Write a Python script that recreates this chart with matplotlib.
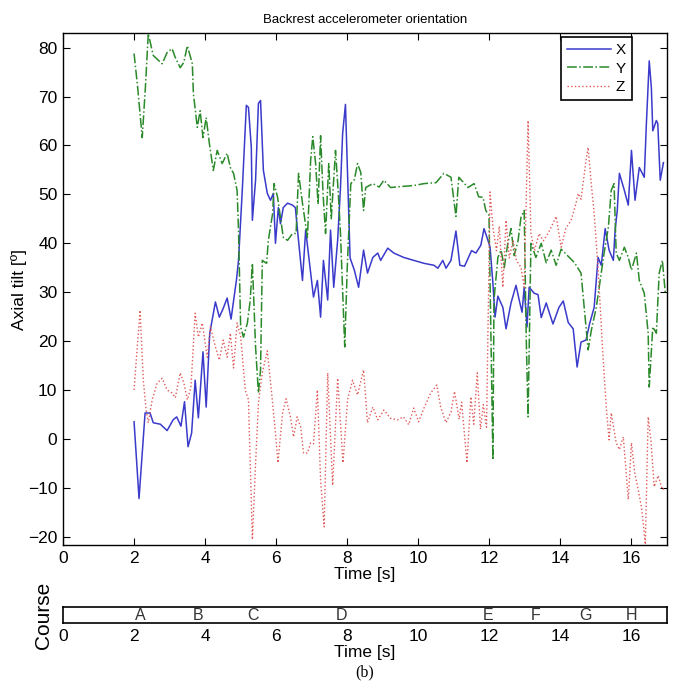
import matplotlib
matplotlib.use("Agg")
import matplotlib.pyplot as plt

plt.rcParams['font.family'] = ['Liberation Sans Narrow', 'Liberation Sans', 'DejaVu Sans']

# ---------------- data ----------------
x_t = [2.00, 2.14, 2.31, 2.45, 2.54, 2.74, 2.93, 3.10, 3.20, 3.32, 3.42, 3.52, 3.62, 3.72, 3.81,
       3.94, 4.03, 4.13, 4.29, 4.40, 4.51, 4.62, 4.73, 4.88, 4.94, 5.05, 5.16, 5.22, 5.30, 5.33,
       5.42, 5.50, 5.56, 5.64, 5.75, 5.84, 5.92, 5.98, 6.06, 6.12, 6.20, 6.32, 6.46, 6.54, 6.60,
       6.74, 6.83, 6.97, 7.05, 7.16, 7.25, 7.33, 7.45, 7.53, 7.62, 7.73, 7.81, 7.87, 7.95, 8.03,
       8.08, 8.20, 8.32, 8.46, 8.57, 8.72, 8.86, 8.94, 9.14, 9.31, 9.59, 9.87, 10.16, 10.44, 10.55,
       10.69, 10.78, 10.92, 11.06, 11.17, 11.30, 11.50, 11.62, 11.76, 11.85, 11.96, 12.02, 12.10, 12.16,
       12.24, 12.38, 12.47, 12.61, 12.75, 12.84, 12.92, 12.98, 13.06, 13.12, 13.26, 13.37, 13.46, 13.60,
       13.79, 13.96, 14.08, 14.22, 14.36, 14.47, 14.58, 14.72, 14.82, 14.95, 15.06, 15.15, 15.26, 15.37,
       15.49, 15.54, 15.60, 15.66, 15.80, 15.91, 16.00, 16.10, 16.22, 16.36, 16.42, 16.50, 16.56, 16.60,
       16.70, 16.74, 16.81, 16.90]
x_v = [3.5, -12.2, 5.3, 5.3, 3.3, 3.0, 1.7, 3.9, 4.5, 2.6, 7.6, -1.6, 1.2, 12.0, 4.3,
       17.8, 6.5, 21.6, 28.0, 24.9, 26.7, 28.8, 24.5, 32.4, 36.5, 51.4, 68.2, 67.8, 59.6, 44.7,
       52.9, 68.6, 69.2, 54.9, 50.2, 48.8, 50.2, 40.0, 47.3, 44.0, 47.3, 48.2, 47.8, 47.3, 42.7,
       32.4, 42.7, 33.9, 29.0, 32.4, 24.9, 36.5, 28.4, 42.7, 31.0, 40.6, 51.4, 62.4, 68.4, 49.0,
       37.0, 34.5, 31.0, 38.6, 33.9, 37.1, 38.0, 36.5, 39.0, 38.0, 37.1, 36.5, 35.9, 35.5, 34.9,
       36.5, 34.9, 36.5, 42.5, 35.5, 35.3, 38.5, 38.0, 39.6, 43.0, 40.6, 39.2, 31.8, 24.9,
       29.2, 26.9, 22.5, 27.8, 31.4, 28.4, 25.9, 31.0, 22.9, 31.0, 29.8, 29.5, 24.8, 27.8,
       23.5, 26.9, 28.2, 23.8, 22.5, 14.7, 19.8, 20.2, 23.5, 26.9, 37.1, 35.5, 43.0, 38.6,
       36.5, 42.7, 46.7, 54.3, 50.8, 47.8, 59.0, 48.8, 55.5, 53.5, 64.5, 77.3, 71.8, 63.0,
       65.1, 64.5, 52.9, 56.5]

y_t = [2.00, 2.10, 2.23, 2.32, 2.40, 2.54, 2.79, 2.93, 3.07, 3.16, 3.30, 3.40, 3.50, 3.64, 3.67,
       3.78, 3.86, 3.94, 4.03, 4.12, 4.23, 4.34, 4.48, 4.62, 4.71, 4.80, 4.90, 4.94, 5.00, 5.08,
       5.19, 5.27, 5.33, 5.42, 5.50, 5.56, 5.61, 5.73, 5.78, 5.90, 5.94, 6.04, 6.12, 6.20, 6.32,
       6.46, 6.56, 6.63, 6.74, 6.88, 6.97, 7.03, 7.11, 7.18, 7.25, 7.32, 7.39, 7.48, 7.55, 7.67,
       7.75, 7.81, 7.93, 8.00, 8.10, 8.20, 8.29, 8.38, 8.46, 8.52, 8.72, 8.90, 9.03, 9.22, 9.50,
       9.87, 10.16, 10.50, 10.72, 10.92, 11.06, 11.14, 11.40, 11.57, 11.70, 11.82, 11.90, 11.99, 12.10,
       12.13, 12.24, 12.33, 12.42, 12.52, 12.61, 12.70, 12.81, 12.89, 12.98, 13.04, 13.09, 13.17, 13.31,
       13.46, 13.60, 13.74, 13.88, 14.02, 14.25, 14.40, 14.58, 14.67, 14.78, 14.87, 15.01, 15.15, 15.23,
       15.35, 15.43, 15.51, 15.57, 15.66, 15.80, 15.91, 16.00, 16.14, 16.22, 16.36, 16.47, 16.50, 16.60,
       16.70, 16.78, 16.87, 16.95]
y_v = [78.8, 72.0, 61.6, 72.0, 82.9, 78.4, 76.7, 79.0, 79.8, 78.0, 75.9, 77.0, 80.4, 76.7, 70.6,
       63.7, 67.1, 61.6, 65.7, 60.4, 54.9, 59.0, 56.3, 58.4, 55.5, 54.3, 50.8, 42.7, 22.9, 20.8,
       23.7, 28.4, 35.9, 18.8, 9.4, 14.1, 36.5, 35.9, 40.6, 46.1, 52.2, 49.4, 45.3, 41.2, 40.6,
       42.0, 42.0, 54.3, 48.2, 41.2, 57.0, 61.8, 56.3, 48.0, 62.0, 50.0, 42.0, 56.3, 45.0, 59.0,
       50.0, 42.0, 18.8, 35.0, 52.2, 53.0, 56.3, 54.5, 46.7, 51.4, 52.2, 51.5, 52.9, 51.4, 51.6,
       51.8, 52.2, 52.4, 54.3, 53.5, 45.5, 53.5, 51.4, 52.2, 49.5, 49.4, 46.7, 45.7, -4.3,
       28.4, 37.1, 38.6, 35.0, 40.0, 43.0, 37.5, 40.6, 45.3, 46.7, 20.0, 4.5, 40.0, 37.1,
       40.0, 36.0, 38.6, 35.5, 38.8, 37.1, 36.0, 33.9, 26.9, 18.2, 22.2, 26.9, 33.9, 38.0,
       43.3, 50.8, 52.2, 38.0, 36.5, 39.2, 37.1, 34.5, 38.0, 32.4, 29.8, 21.6, 10.6, 22.9,
       21.6, 33.9, 36.5, 30.0]

z_t = [2.00, 2.09, 2.17, 2.26, 2.34, 2.40, 2.51, 2.65, 2.79, 2.93, 3.07, 3.16, 3.30, 3.40, 3.50,
       3.60, 3.72, 3.81, 3.92, 4.06, 4.15, 4.29, 4.40, 4.51, 4.62, 4.71, 4.80, 4.90, 5.00, 5.13,
       5.22, 5.33, 5.42, 5.50, 5.61, 5.75, 5.85, 5.98, 6.05, 6.18, 6.28, 6.40, 6.49, 6.59, 6.69,
       6.77, 6.88, 6.97, 7.05, 7.16, 7.25, 7.35, 7.45, 7.59, 7.73, 7.88, 8.01, 8.15, 8.29, 8.46,
       8.57, 8.72, 8.86, 9.03, 9.22, 9.42, 9.58, 9.73, 9.87, 10.01, 10.16, 10.35, 10.52, 10.63, 10.78,
       10.92, 11.02, 11.15, 11.22, 11.37, 11.48, 11.56, 11.66, 11.75, 11.83, 11.92, 12.02, 12.10, 12.20,
       12.28, 12.38, 12.47, 12.56, 12.67, 12.76, 12.89, 12.98, 13.06, 13.09, 13.17, 13.27, 13.40, 13.52,
       13.65, 13.74, 13.88, 14.02, 14.15, 14.30, 14.44, 14.50, 14.58, 14.72, 14.78, 14.87, 14.95, 15.06,
       15.20, 15.29, 15.37, 15.43, 15.57, 15.66, 15.77, 15.85, 15.91, 16.00, 16.09, 16.19, 16.28, 16.33,
       16.39, 16.47, 16.55, 16.64, 16.75, 16.87, 16.95]
z_v = [10.0, 18.8, 26.3, 12.0, 5.9, 3.3, 8.0, 11.4, 12.4, 10.0, 9.4, 8.4, 13.5, 11.5, 8.0,
       10.5, 25.7, 20.8, 23.7, 16.7, 22.9, 18.8, 16.1, 20.2, 16.7, 21.6, 14.5, 23.7, 21.0, 10.0,
       8.0, -20.6, -5.0, 7.3, 13.5, 18.0, 11.0, 1.2, -4.9, 5.3, 8.2, 4.5, 0.4, 4.5, 2.4,
       -2.9, -2.9, -0.8, -1.0, 10.0, -8.4, -18.0, 13.5, -9.5, 12.4, -4.9, 8.0, 12.0, 9.0, 14.1,
       3.3, 6.5, 3.9, 5.9, 4.2, 3.9, 4.5, 2.9, 6.3, 3.5, 6.3, 9.4, 11.0, 6.5, 3.3,
       5.5, 9.7, 4.0, 7.5, -4.9, 8.6, 3.0, 13.5, 2.0, 7.0, 2.4, 50.5, 43.3, 38.5,
       43.5, 31.0, 44.7, 37.0, 40.6, 36.5, 35.1, 31.0, 55.5, 65.1, 42.0, 38.5, 42.0, 40.5,
       42.0, 43.3, 45.5, 39.2, 43.0, 44.7, 48.2, 50.2, 49.0, 56.9, 59.6, 52.0, 46.1, 34.9,
       16.7, 6.5, -0.2, 5.3, -0.8, -2.2, 0.4, -6.9, -12.4, -0.8, -6.9, -10.4, -13.9, -17.1,
       -21.6, 4.5, -0.5, -9.8, -7.5, -10.4, -10.0]

series_labels = ["X", "Y", "Z"]
course_letters = ["A", "B", "C", "D", "E", "F", "G", "H"]
course_times = [2.17, 3.81, 5.34, 7.85, 11.95, 13.3, 14.7, 16.0]
x_ticks = [0, 2, 4, 6, 8, 10, 12, 14, 16]
y_ticks = [-20, -10, 0, 10, 20, 30, 40, 50, 60, 70, 80]

# ---------------- figure ----------------
fig = plt.figure(figsize=(6.76, 6.87), dpi=100)
ax = fig.add_axes([63/676, 142/687, 604/676, 512/687])

ax.plot(x_t, x_v, color='#3a3acb', lw=1.1, ls='-', label=series_labels[0])
ax.plot(y_t, y_v, color='#2a8a2a', lw=1.1, ls='-.', label=series_labels[1])
ax.plot(z_t, z_v, color='#e05a5a', lw=1.0, ls=':', label=series_labels[2])

ax.set_xlim(0, 17)
ax.set_ylim(-21.7, 83.0)
ax.set_xticks(x_ticks)
ax.set_yticks(y_ticks)
ax.tick_params(direction='in', length=5, width=0.8, top=True, right=True, labelsize=12.5, pad=4)
for s in ax.spines.values():
    s.set_linewidth(1.0)
ax.set_title("Backrest accelerometer orientation", fontsize=9.5, pad=7)
ax.set_xlabel("Time [s]", fontsize=12.5, labelpad=1)
ax.set_ylabel("Axial tilt [º]", fontsize=12.5, labelpad=1)

leg = ax.legend(loc='upper right', bbox_to_anchor=(0.942, 0.992), borderaxespad=0,
                fontsize=11, frameon=True, fancybox=False,
                framealpha=1, edgecolor='black', handlelength=2.9, borderpad=0.4,
                labelspacing=0.3, handletextpad=0.3)
leg.get_frame().set_linewidth(1.2)

# ---------------- course strip ----------------
ax2 = fig.add_axes([63/676, 64/687, 604/676, 16/687])
ax2.set_xlim(0, 17)
ax2.set_ylim(0, 1)
ax2.set_yticks([])
ax2.set_xticks(x_ticks)
ax2.tick_params(direction='in', length=0, labelsize=12.5, pad=4)
for s in ax2.spines.values():
    s.set_linewidth(1.2)
for letter, t in zip(course_letters, course_times):
    ax2.text(t, 0.45, letter, ha='center', va='center', fontsize=11.5, color='#333333')
ax2.set_xlabel("Time [s]", fontsize=12.5, labelpad=1)
ax2.set_ylabel("Course", fontsize=15, rotation=90, labelpad=14, va='center')

fig.text(0.5 * (63 + 667) / 676, 1 - 672/687, "(b)", ha='center', va='center',
         fontsize=11.5, family=['Liberation Serif', 'DejaVu Serif'])

fig.savefig("out.png", dpi=100)
